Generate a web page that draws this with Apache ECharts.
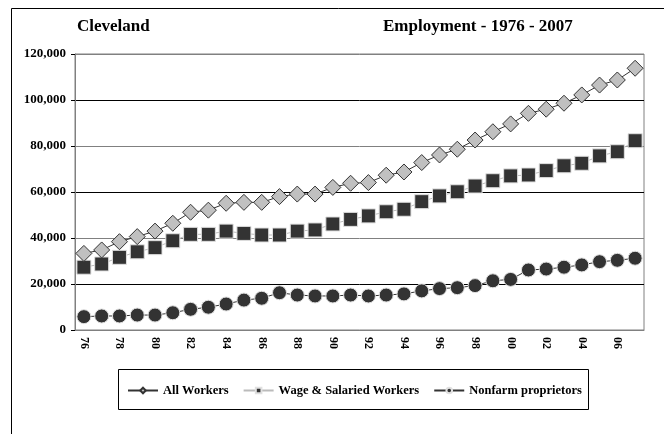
<!DOCTYPE html>
<html>
<head>
<meta charset="utf-8">
<script src="https://cdn.jsdelivr.net/npm/echarts@6/dist/echarts.min.js"></script>
<style>
  html, body { margin: 0; padding: 0; background: #fff; }
  #chart { width: 664px; height: 434px; }
</style>
</head>
<body>
<div id="chart"></div>
<script>
// years 1976 - 2007, two digit labels
var years = ['76','77','78','79','80','81','82','83','84','85','86','87','88','89','90','91',
             '92','93','94','95','96','97','98','99','00','01','02','03','04','05','06','07'];

var allWorkers = [33300, 34800, 38400, 40600, 43000, 46400, 51200, 52100, 55100, 55500, 55500, 58000,
                  59100, 59100, 62000, 63800, 64100, 67300, 68700, 72800, 76100, 78600, 82600, 86200,
                  89600, 94200, 96000, 98600, 102200, 106500, 108700, 113800];

var wageWorkers = [27300, 28700, 31600, 34000, 35800, 38800, 41600, 41600, 43000, 42000, 41300, 41300,
                   43000, 43500, 46100, 48100, 49600, 51400, 52500, 55800, 58300, 60100, 62600, 64900,
                   67000, 67400, 69300, 71400, 72500, 75700, 77500, 82300];

var nonfarm = [5800, 6100, 6100, 6500, 6500, 7500, 9000, 9900, 11300, 13000, 13800, 16200,
               15200, 14800, 14800, 15200, 14800, 15200, 15700, 17000, 18000, 18400, 19300, 21400,
               22000, 26100, 26500, 27300, 28300, 29700, 30300, 31200];

var serif = '"Liberation Serif", "DejaVu Serif", serif';

var chart = echarts.init(document.getElementById('chart'));

var option = {
    animation: false,
    backgroundColor: '#fff',
    textStyle: { fontFamily: serif },
    graphic: [
        {
            type: 'rect',
            shape: { x: 11.5, y: 8.5, width: 700, height: 500 },
            style: { fill: 'none', stroke: '#000', lineWidth: 1 },
            silent: true
        },
        {
            type: 'rect',
            shape: { x: 118.5, y: 369.5, width: 470, height: 40 },
            style: { fill: 'none', stroke: '#000', lineWidth: 1 },
            silent: true
        },
        {
            type: 'text',
            left: 77, top: 18,
            style: { text: 'Cleveland', font: 'bold 17px ' + serif, fill: '#000' }
        },
        {
            type: 'text',
            left: 383, top: 18,
            style: { text: 'Employment - 1976 - 2007', font: 'bold 17px ' + serif, fill: '#000' }
        }
    ],
    grid: {
        left: 75,
        right: 20,
        top: 54,
        bottom: 104,
        show: true,
        borderColor: '#808080',
        borderWidth: 1
    },
    legend: {
        left: 127,
        top: 384,
        padding: 0,
        itemWidth: 30,
        itemHeight: 7,
        itemGap: 14,
        textStyle: { fontFamily: serif, fontWeight: 'bold', fontSize: 12.5, color: '#000' },
        data: ['All Workers', 'Wage & Salaried Workers', 'Nonfarm proprietors']
    },
    xAxis: {
        type: 'category',
        data: years,
        boundaryGap: true,
        axisLine: { lineStyle: { color: '#808080' } },
        axisTick: { interval: 1, length: 4, lineStyle: { color: '#000' } },
        axisLabel: {
            interval: 1,
            rotate: -90,
            fontFamily: serif,
            fontWeight: 'bold',
            fontSize: 12,
            color: '#000',
            margin: 7
        }
    },
    yAxis: {
        type: 'value',
        min: 0,
        max: 120000,
        interval: 20000,
        axisLine: { show: true, lineStyle: { color: '#808080' } },
        axisTick: { show: true, length: 4, lineStyle: { color: '#000' } },
        splitLine: { lineStyle: { color: ['#808080', '#000'], width: 1 } },
        axisLabel: {
            fontFamily: serif,
            fontWeight: 'bold',
            fontSize: 13,
            color: '#000',
            margin: 9,
            formatter: function (v) { return v.toLocaleString('en-US'); }
        }
    },
    series: [
        {
            name: 'All Workers',
            type: 'line',
            data: allWorkers,
            showAllSymbol: true,
            symbol: 'diamond',
            symbolSize: 16,
            lineStyle: { color: '#333', width: 1 },
            itemStyle: { color: '#c0c0c0', borderColor: '#333', borderWidth: 1 },
            z: 4
        },
        {
            name: 'Wage & Salaried Workers',
            type: 'line',
            data: wageWorkers,
            showAllSymbol: true,
            symbol: 'rect',
            symbolSize: 14,
            lineStyle: { color: '#bbb', width: 1 },
            itemStyle: { color: '#333', borderColor: '#e0e0e0', borderWidth: 1 },
            z: 3
        },
        {
            name: 'Nonfarm proprietors',
            type: 'line',
            data: nonfarm,
            showAllSymbol: true,
            symbol: 'circle',
            symbolSize: 14,
            lineStyle: { color: '#333', width: 1 },
            itemStyle: { color: '#333', borderColor: '#e0e0e0', borderWidth: 1 },
            z: 3
        }
    ]
};

chart.setOption(option);

window.addEventListener('resize', function () {
    chart.resize();
});
</script>
</body>
</html>
